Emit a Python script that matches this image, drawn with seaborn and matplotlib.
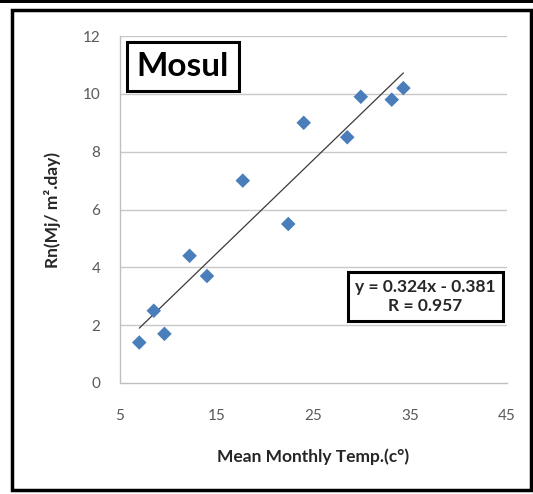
import matplotlib
matplotlib.use("Agg")
import matplotlib.pyplot as plt
import seaborn as sns
import pandas as pd
from matplotlib.patches import Rectangle

# Data
temp = [7.0, 8.5, 9.6, 12.2, 14.0, 17.7, 22.4, 24.0, 28.5, 29.9, 33.1, 34.3]
rn = [1.4, 2.5, 1.7, 4.4, 3.7, 7.0, 5.5, 9.0, 8.5, 9.9, 9.8, 10.2]
x_ticks = [5, 15, 25, 35, 45]
y_ticks = [0, 2, 4, 6, 8, 10, 12]
station = "Mosul"
equation_text = "y = 0.324x - 0.381\nR = 0.957"

df = pd.DataFrame({"temp": temp, "rn": rn})

sns.set_theme(style="white")
plt.rcParams["font.family"] = ["Lato", "DejaVu Sans"]

fig = plt.figure(figsize=(5.33, 4.94), dpi=100)
ax = fig.add_axes([0.225, 0.2247, 0.726, 0.7023])

for yv in y_ticks[1:]:
    ax.axhline(yv, color="#c8c8c8", lw=1.0, zorder=0)

sns.regplot(data=df, x="temp", y="rn", ax=ax, scatter=False, ci=None,
            truncate=True, line_kws=dict(color="#3a3a3a", lw=0.9, zorder=2))
sns.scatterplot(data=df, x="temp", y="rn", ax=ax, marker="D", s=55,
                color="#4a7ebb", edgecolor="none", zorder=3)

ax.set_xlim(5, 45)
ax.set_ylim(0, 12)
ax.set_xticks(x_ticks)
ax.set_yticks(y_ticks)
ax.tick_params(axis="y", labelsize=11, colors="#595959", length=5,
               direction="out", color="#c0c0c0", width=1.0, pad=9)
ax.tick_params(axis="x", labelsize=11, colors="#595959", length=4,
               direction="inout", color="#c0c0c0", width=1.0, pad=17)
for s in ["top", "right"]:
    ax.spines[s].set_visible(False)
for s in ["left", "bottom"]:
    ax.spines[s].set_color("#c0c0c0")
    ax.spines[s].set_linewidth(1.0)

ax.set_xlabel("Mean Monthly Temp.(c°)", fontsize=12.5, fontweight="bold",
              color="#262626", labelpad=18)
ax.set_ylabel("Rn(Mj/ m².day)", fontsize=12.5, fontweight="bold",
              color="#262626", labelpad=16)

ax.text(0.163, 0.912, station, transform=ax.transAxes, fontsize=24,
        fontweight="bold", color="black", va="center", ha="center",
        bbox=dict(boxstyle="square,pad=0.3", fc="white", ec="black", lw=2.2))

ax.text(0.79, 0.25, equation_text, transform=ax.transAxes, fontsize=12.5,
        fontweight="bold", color="#262626", va="center", ha="center",
        linespacing=1.25,
        bbox=dict(boxstyle="square,pad=0.4", fc="white", ec="black", lw=2.2))

# Outer frame
fig.add_artist(Rectangle((12 / 533, 1 - 490 / 494), 519 / 533, 480 / 494,
                         transform=fig.transFigure, fill=False, ec="black",
                         lw=2.5))
fig.add_artist(Rectangle((0, 1 - 3 / 494), 1, 3 / 494, transform=fig.transFigure,
                         fc="black", ec="none"))

fig.savefig("out.png", dpi=100)
